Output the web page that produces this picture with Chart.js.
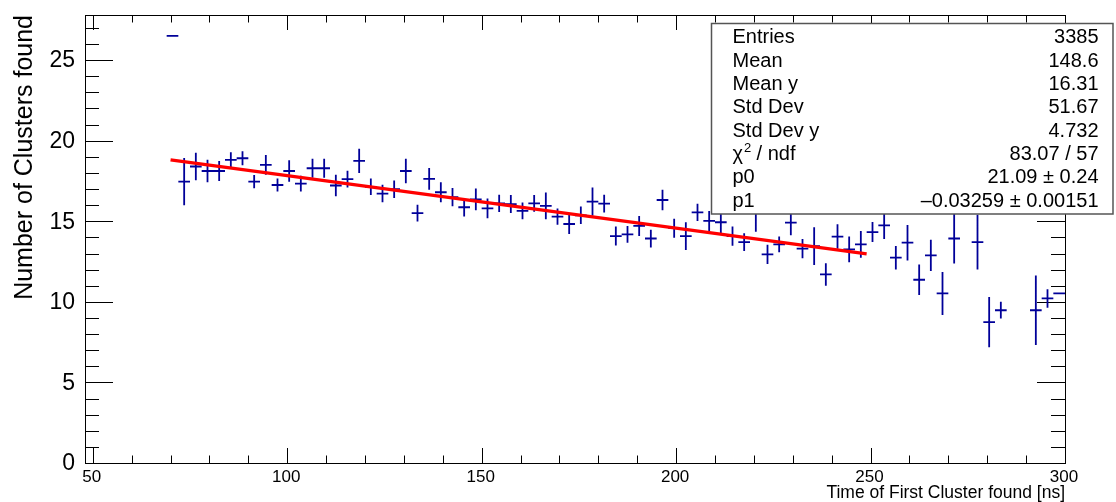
<!DOCTYPE html>
<html>
<head>
<meta charset="utf-8">
<script src="https://cdn.jsdelivr.net/npm/chart.js@4.4.1/dist/chart.umd.min.js"></script>
<style>
  html, body { margin: 0; padding: 0; background: #fff; }
  #wrap { position: relative; width: 1116px; height: 502px; }
</style>
</head>
<body>
<div id="wrap"><canvas id="profile"></canvas></div>
<script>
// ====== DATA ======
// bin centres [ns], mean number of clusters, error on the mean
const binCenters = [70.5, 73.5, 76.5, 79.5, 82.5, 85.5, 88.5, 91.5, 94.5, 97.5,
  100.5, 103.5, 106.5, 109.5, 112.5, 115.5, 118.5, 121.5, 124.5, 127.5,
  130.5, 133.5, 136.5, 139.5, 142.5, 145.5, 148.5, 151.5, 154.5, 157.5,
  160.5, 163.5, 166.5, 169.5, 172.5, 175.5, 178.5, 181.5, 184.5, 187.5,
  190.5, 193.5, 196.5, 199.5, 202.5, 205.5, 208.5, 211.5, 214.5, 217.5,
  220.5, 223.5, 226.5, 229.5, 232.5, 235.5, 238.5, 241.5, 244.5, 247.5,
  250.5, 253.5, 256.5, 259.5, 262.5, 265.5, 268.5, 271.5, 277.5, 280.5,
  283.5, 292.5, 295.5, 298.5];
const binMeans = [26.5, 17.46, 18.40, 18.12, 18.12, 18.81, 18.91, 17.46, 18.50, 17.25,
  18.12, 17.34, 18.29, 18.29, 17.22, 17.61, 18.75, 17.14, 16.72, 16.99,
  18.12, 15.51, 17.63, 16.80, 16.50, 15.87, 16.36, 15.80, 16.11, 16.07,
  15.65, 16.11, 15.95, 15.29, 14.83, 15.37, 16.22, 16.10, 14.08, 14.19,
  14.71, 13.93, 16.32, 14.57, 14.08, 15.55, 15.02, 14.94, 14.08, 13.71,
  15.50, 12.95, 13.57, 14.92, 13.30, 13.46, 11.70, 14.05, 13.26, 13.57,
  14.33, 14.75, 12.74, 13.67, 11.37, 12.89, 10.52, 13.93, 13.71, 8.74,
  9.48, 9.48, 10.21, 10.52];
const binErrors = [0, 1.47, 0.85, 0.70, 0.62, 0.47, 0.44, 0.41, 0.61, 0.41,
  0.66, 0.49, 0.59, 0.59, 0.67, 0.52, 0.75, 0.51, 0.54, 0.54,
  0.76, 0.52, 0.67, 0.62, 0.57, 0.57, 0.68, 0.62, 0.54, 0.56,
  0.52, 0.52, 0.83, 0.50, 0.62, 0.54, 0.87, 0.55, 0.59, 0.52,
  0.62, 0.55, 0.64, 0.59, 0.86, 0.53, 0.62, 0.66, 0.60, 0.55,
  1.15, 0.60, 0.49, 0.79, 0.60, 1.17, 0.70, 0.76, 0.80, 0.83,
  0.62, 0.85, 0.73, 1.10, 0.94, 0.97, 1.33, 1.55, 1.70, 1.56,
  0.52, 2.16, 0.57, 0];
const binHalfWidth = 1.5;

// pol1 fit drawn over its range
const fitX = [70, 249];
const fitY = [18.81, 12.98];

const xTickValues = [50, 100, 150, 200, 250, 300];
const xTickLabels = ['50', '100', '150', '200', '250', '300'];
const yTickValues = [0, 5, 10, 15, 20, 25];
const yTickLabels = ['0', '5', '10', '15', '20', '25'];

const statsNames = ['Entries', 'Mean', 'Mean y', 'Std Dev', 'Std Dev y', 'χ2 / ndf', 'p0', 'p1'];
const statsValues = ['3385', '148.6', '16.31', '51.67', '4.732', '83.07 / 57', '21.09 \u00b1 0.24', '\u20130.03259 \u00b1 0.00151'];

const FONT = '"Liberation Sans", Arial, Helvetica, sans-serif';
const MARKER = '#000099';

// ====== ROOT-like frame, ticks, error crosses, stats box ======
const rootPlot = {
  id: 'rootPlot',
  beforeDatasetsDraw(chart) {
    const { ctx, chartArea: a, scales: { x, y } } = chart;
    ctx.save();

    // ticks on all four sides, pointing inwards
    ctx.strokeStyle = '#000';
    ctx.lineWidth = 1;
    ctx.beginPath();
    for (let v = 50; v <= 300; v += 10) {
      const px = Math.round(x.getPixelForValue(v)) + 0.5;
      const len = v % 50 === 0 ? 15 : 7.5;
      ctx.moveTo(px, a.bottom); ctx.lineTo(px, a.bottom - len);
      ctx.moveTo(px, a.top); ctx.lineTo(px, a.top + len);
    }
    for (let v = 0; v <= 27; v += 1) {
      const py = Math.round(y.getPixelForValue(v)) + 0.5;
      const len = v % 5 === 0 ? 28 : 14;
      ctx.moveTo(a.left, py); ctx.lineTo(a.left + len, py);
      ctx.moveTo(a.right, py); ctx.lineTo(a.right - len, py);
    }
    ctx.stroke();
    ctx.strokeRect(Math.round(a.left) + 0.5, Math.round(a.top) + 0.5,
      Math.round(a.width), Math.round(a.height));

    // error crosses, clipped to the frame
    ctx.beginPath();
    ctx.rect(a.left, a.top, a.width, a.height);
    ctx.clip();
    ctx.strokeStyle = MARKER;
    ctx.lineWidth = 1.8;
    ctx.beginPath();
    chart.data.datasets[0].data.forEach(p => {
      const cx = x.getPixelForValue(p.x);
      const cy = y.getPixelForValue(p.y);
      ctx.moveTo(x.getPixelForValue(p.x - binHalfWidth), cy);
      ctx.lineTo(x.getPixelForValue(p.x + binHalfWidth), cy);
      if (p.err > 0) {
        ctx.moveTo(cx, y.getPixelForValue(p.y + p.err));
        ctx.lineTo(cx, y.getPixelForValue(p.y - p.err));
      }
    });
    ctx.stroke();
    ctx.restore();
  },
  afterDraw(chart) {
    const { ctx, chartArea: a, scales: { x, y } } = chart;
    ctx.save();
    ctx.fillStyle = '#000';

    // tick labels
    ctx.font = '23px ' + FONT;
    ctx.textAlign = 'right';
    ctx.textBaseline = 'middle';
    yTickValues.forEach((v, i) => ctx.fillText(yTickLabels[i], 75, y.getPixelForValue(v) + 1));
    ctx.font = '17px ' + FONT;
    ctx.textAlign = 'center';
    ctx.textBaseline = 'alphabetic';
    xTickValues.forEach((v, i) => ctx.fillText(xTickLabels[i], x.getPixelForValue(v) - 1, 481.5));

    // axis titles
    ctx.font = '17.5px ' + FONT;
    ctx.textAlign = 'right';
    ctx.fillText('Time of First Cluster found [ns]', a.right, 498);
    ctx.save();
    ctx.translate(31.5, a.top);
    ctx.rotate(-Math.PI / 2);
    ctx.font = '25px ' + FONT;
    ctx.textAlign = 'right';
    ctx.fillText('Number of Clusters found', 0, 0);
    ctx.restore();

    // stats box
    const bx = 711.5, by = 23.5, bw = 401.5, bh = 190.5;
    ctx.fillStyle = '#fff';
    ctx.fillRect(bx, by, bw, bh);
    ctx.strokeStyle = '#555';
    ctx.lineWidth = 1.5;
    ctx.strokeRect(bx, by, bw, bh);
    ctx.fillStyle = '#000';
    ctx.font = '20px ' + FONT;
    statsNames.forEach((name, i) => {
      const base = 43.3 + 23.35 * i;
      ctx.textAlign = 'left';
      if (name.startsWith('χ2')) {
        ctx.fillText('χ', 732.5, base);
        const w = ctx.measureText('χ').width;
        ctx.font = '13px ' + FONT;
        ctx.fillText('2', 732.5 + w + 1, base - 8);
        ctx.font = '20px ' + FONT;
        ctx.fillText(' / ndf', 732.5 + w + 8, base);
      } else {
        ctx.fillText(name, 732.5, base);
      }
      ctx.textAlign = 'right';
      ctx.fillText(statsValues[i], 1098.5, base);
    });
    ctx.restore();
  }
};

const profilePoints = binCenters.map((c, i) => ({ x: c, y: binMeans[i], err: binErrors[i] }));
const fitPoints = fitX.map((v, i) => ({ x: v, y: fitY[i] }));

new Chart(document.getElementById('profile'), {
  type: 'scatter',
  data: {
    datasets: [
      {
        label: 'profile',
        data: profilePoints,
        pointRadius: 0,
        pointHoverRadius: 0,
        borderColor: MARKER
      },
      {
        type: 'line',
        label: 'fit',
        data: fitPoints,
        borderColor: '#ff0000',
        borderWidth: 3.2,
        pointRadius: 0,
        fill: false,
        tension: 0
      }
    ]
  },
  options: {
    responsive: true,
    maintainAspectRatio: false,
    animation: false,
    layout: { padding: { left: 85, right: 51, top: 15, bottom: 39 } },
    plugins: { legend: { display: false }, tooltip: { enabled: false } },
    scales: {
      x: { type: 'linear', min: 48, max: 300, display: false },
      y: { type: 'linear', min: 0, max: 27.8, display: false }
    }
  },
  plugins: [rootPlot]
});
</script>
</body>
</html>
